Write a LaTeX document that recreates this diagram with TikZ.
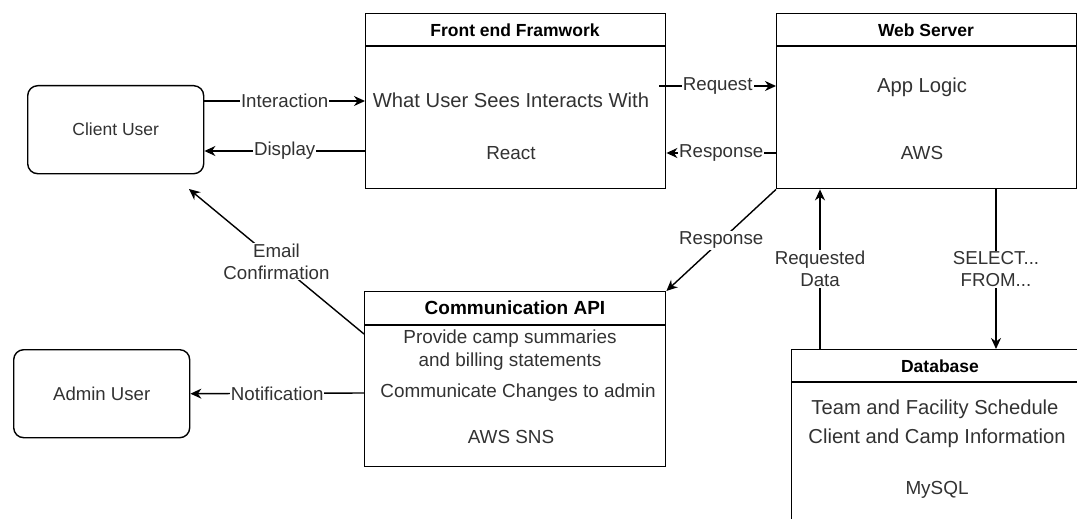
\documentclass[tikz,border=0pt]{standalone}
\usepackage{fontspec}
\setmainfont{Liberation Sans}
\usetikzlibrary{arrows.meta,calc}
\definecolor{txt}{RGB}{50,50,50}
\begin{document}
\begin{tikzpicture}[x=1pt,y=-1pt,
  box/.style={draw=black, line width=1.4pt, inner sep=0pt, anchor=north west},
  ubox/.style={box, rounded corners=10pt, text=txt},
  hline/.style={draw=black, line width=1.4pt},
  conn/.style={draw=black, line width=1.4pt, -{Stealth[length=11pt,width=10pt,inset=3.5pt]}},
  lbl/.style={fill=white, text=txt, inner sep=1pt, font=\fontsize{18.7}{22}\selectfont, align=center},
  ttl/.style={text=black, inner sep=0pt, font=\bfseries\fontsize{17.5}{21}\selectfont},
  body/.style={text=txt, inner sep=0pt, font=\fontsize{20.2}{23}\selectfont, align=center},
  bodys/.style={text=txt, inner sep=0pt, font=\fontsize{18.9}{23}\selectfont, align=center}
]
\useasboundingbox (0,0) rectangle (1077,519);
\clip (0,0) rectangle (1077,519);

% user boxes
\node[ubox, minimum width=176pt, minimum height=88pt, font=\fontsize{17.5}{21}\selectfont] (cu) at (27,85) {Client User};
\node[ubox, minimum width=176pt, minimum height=88pt, font=\fontsize{18.6}{22}\selectfont] (au) at (13,349) {Admin User};

% front end
\node[box, minimum width=300pt, minimum height=175pt] (fe) at (365,13) {};
\draw[hline] (fe.west |- 0,46) -- (fe.east |- 0,46);
\node[ttl] (fet) at (515,30) {Front end Framwork};
\node[body] (fe1) at (511,100) {What User Sees Interacts With};
\node[bodys] (fe2) at (511,153) {React};

% web server
\node[box, minimum width=300pt, minimum height=175pt] (ws) at (776,13) {};
\draw[hline] (ws.west |- 0,46) -- (ws.east |- 0,46);
\node[ttl] (wst) at (926,30) {Web Server};
\node[body] (ws1) at (922,87) {App Logic};
\node[bodys] (ws2) at (922,153) {AWS};

% communication api
\node[box, minimum width=301pt, minimum height=175pt] (api) at (364,291) {};
\draw[hline] (api.west |- 0,325) -- (api.east |- 0,325);
\node[ttl, font=\bfseries\fontsize{19}{22}\selectfont] (apit) at (515,308) {Communication API};
\node[bodys] (api1) at (510,350.5) {Provide camp summaries\\and billing statements};
\node[bodys] (api2) at (518,393) {Communicate Changes to admin};
\node[bodys] (api3) at (511,437) {AWS SNS};

% database
\node[box, minimum width=298pt, minimum height=200pt] (db) at (791,349) {};
\draw[hline] (db.west |- 0,382) -- (db.east |- 0,382);
\node[ttl] (dbt) at (940,366) {Database};
\node[body] (db1) at (935,409) {Team and Facility Schedule};
\node[body] (db2) at (937,438) {Client and Camp Information};
\node[bodys] (db3) at (937,490) {MySQL};

\coordinate (emailtip) at (189,189);

% connectors
\draw[conn] (cu.east |- 0,101) -- node[lbl]{Interaction} (fe.west |- 0,101);
\draw[conn] (fe.west |- 0,151) -- node[lbl]{Display} (cu.east |- 0,151);
\draw[conn] ($(fe.east |- 0,86)+(-7,0)$) -- node[lbl]{Request} (ws.west |- 0,86);
\draw[conn] (ws.west |- 0,153) -- node[lbl]{Response} (fe.east |- 0,153);
\draw[conn] (ws.south west) -- node[lbl]{Response} (api.north east);
\draw[conn] (db.north -| 820,0) -- node[lbl]{Requested\\Data} (ws.south -| 820,0);
\draw[conn] (ws.south -| 996,0) -- node[lbl]{SELECT...\\FROM...} (db.north -| 996,0);
\draw[conn] (api.west |- 0,334) -- node[lbl]{Email\\Confirmation} (emailtip);
\draw[conn] (api.west |- 0,393) -- node[lbl]{Notification} (au.east);
\end{tikzpicture}
\end{document}
